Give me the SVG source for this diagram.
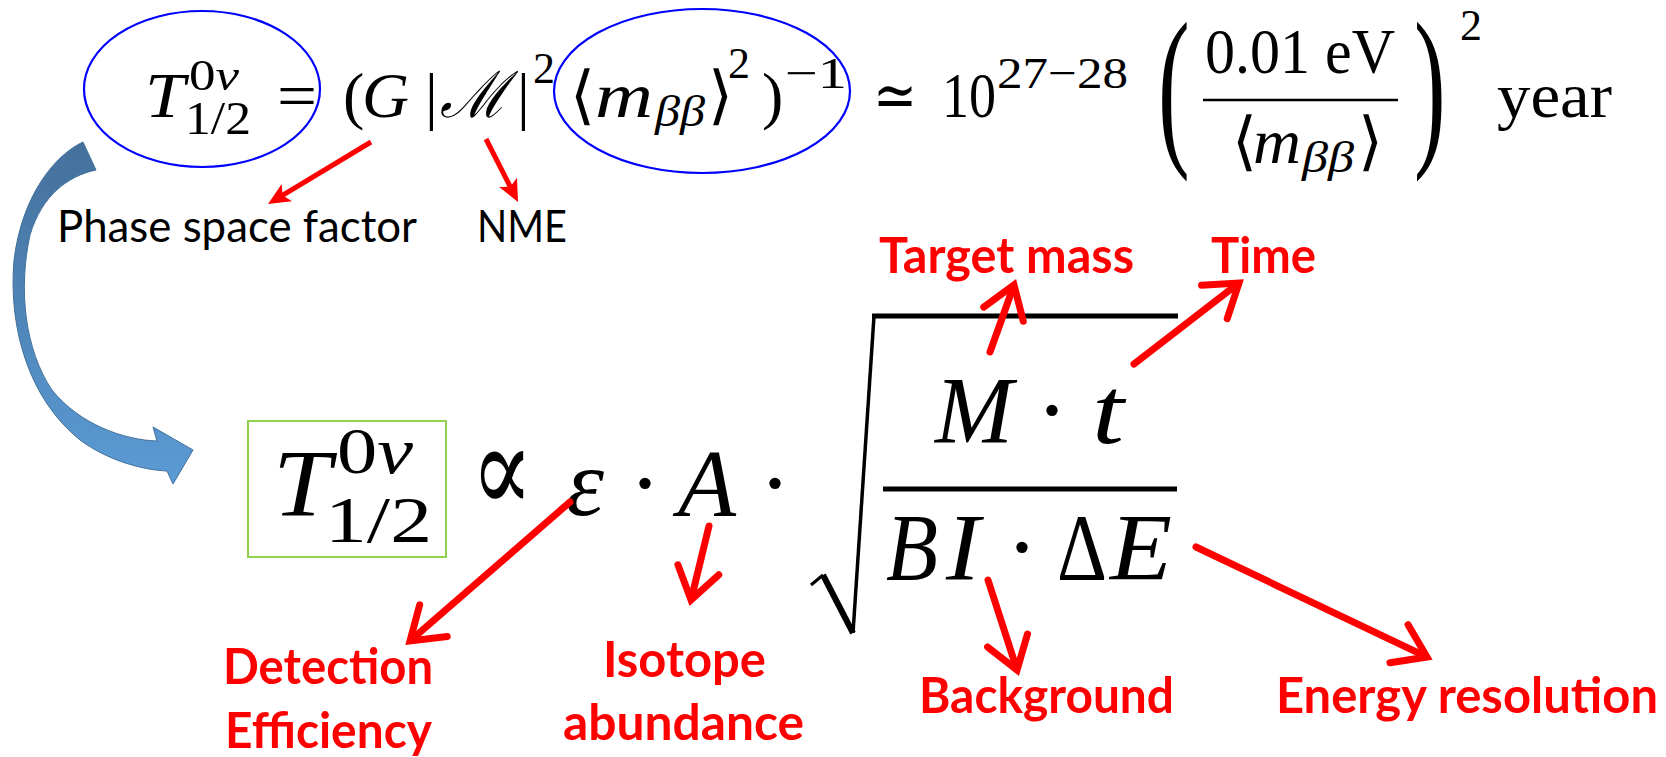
<svg xmlns="http://www.w3.org/2000/svg" width="1666" height="757" viewBox="0 0 1666 757">
<style>
.cm{font-family:'Liberation Serif','DejaVu Serif',serif;fill:#000}
.it{font-style:italic}
.lab{font-family:Lato,'Liberation Sans',sans-serif;fill:#000}
.red{font-family:Lato,'Liberation Sans',sans-serif;font-weight:bold;fill:#ff0000}
.ell{fill:none;stroke:#0000ff;stroke-width:2.2}
.arrS{fill:none;stroke:#ff0000;stroke-width:5}
.arrL{fill:none;stroke:#ff0000;stroke-width:7;stroke-linecap:round}
</style>
<defs>
<marker id="fillHead" markerUnits="userSpaceOnUse" viewBox="-24 -12 26 24" refX="-12" refY="0" markerWidth="26" markerHeight="24" orient="auto">
<path d="M0,0 L-22,-10 L-17,0 L-22,10 Z" fill="#ff0000"/>
</marker>
<marker id="openHead" markerUnits="userSpaceOnUse" viewBox="-40 -30 50 60" refX="-5" refY="0" markerWidth="50" markerHeight="60" orient="auto">
<path d="M-31,-21 L0,0 L-31,21" fill="none" stroke="#ff0000" stroke-width="7" stroke-linecap="round" stroke-linejoin="miter"/>
</marker>
<linearGradient id="blueGrad" x1="0" y1="0" x2="0" y2="1">
<stop offset="0" stop-color="#44709b"/>
<stop offset="1" stop-color="#5b9bd5"/>
</linearGradient>
</defs>

<g id="formula-top" class="cm">
<text x="145" y="117" font-size="64" class="it" textLength="40" lengthAdjust="spacingAndGlyphs">T</text>
<text x="189" y="90" font-size="44" textLength="50" lengthAdjust="spacingAndGlyphs">0<tspan class="it">ν</tspan></text>
<text x="185" y="134" font-size="46" textLength="66" lengthAdjust="spacingAndGlyphs">1/2</text>
<text x="277" y="117" font-size="64" textLength="40" lengthAdjust="spacingAndGlyphs">=</text>
<text x="343" y="117" font-size="64">(</text>
<text x="362" y="117" font-size="64" class="it" textLength="47" lengthAdjust="spacingAndGlyphs">G</text>
<text x="425" y="117" font-size="64">|</text>
<text x="440" y="117" font-size="64" class="it" textLength="68" lengthAdjust="spacingAndGlyphs">ℳ</text>
<text x="517" y="117" font-size="64">|</text>
<text x="533" y="83" font-size="44">2</text>
<text x="570" y="117" font-size="64">⟨</text>
<text x="595" y="117" font-size="64" class="it" textLength="58" lengthAdjust="spacingAndGlyphs">m</text>
<text x="655" y="126" font-size="44" class="it" textLength="50" lengthAdjust="spacingAndGlyphs">ββ</text>
<text x="708" y="117" font-size="64">⟩</text>
<text x="728" y="78" font-size="44">2</text>
<text x="762" y="117" font-size="64">)</text>
<text x="785" y="88" font-size="44" textLength="62" lengthAdjust="spacingAndGlyphs">−1</text>
<text x="873" y="117" font-size="64" textLength="44" lengthAdjust="spacingAndGlyphs">≃</text>
<text x="942" y="117" font-size="64" textLength="54" lengthAdjust="spacingAndGlyphs">10</text>
<text x="997" y="88" font-size="44" textLength="131" lengthAdjust="spacingAndGlyphs">27−28</text>
<text transform="translate(1158,144) scale(1,1.85)" font-size="95">(</text>
<text x="1205" y="73" font-size="64" textLength="190" lengthAdjust="spacingAndGlyphs">0.01 eV</text>
<line x1="1203" y1="100" x2="1398" y2="100" stroke="#000" stroke-width="2.5"/>
<text x="1232" y="163" font-size="64">⟨</text>
<text x="1253" y="163" font-size="64" class="it" textLength="48" lengthAdjust="spacingAndGlyphs">m</text>
<text x="1302" y="172" font-size="44" class="it" textLength="52" lengthAdjust="spacingAndGlyphs">ββ</text>
<text x="1358" y="163" font-size="64">⟩</text>
<text transform="translate(1414,144) scale(1,1.85)" font-size="95">)</text>
<text x="1460" y="40" font-size="44">2</text>
<text x="1497" y="117" font-size="64" textLength="115" lengthAdjust="spacingAndGlyphs">year</text>
</g>

<g id="ellipse-halflife"><ellipse class="ell" cx="202" cy="89" rx="118" ry="78"/></g>
<g id="ellipse-mass"><ellipse class="ell" cx="702" cy="91" rx="148" ry="82"/></g>

<g id="label-phase"><text class="lab" x="57" y="242" font-size="45" textLength="360" lengthAdjust="spacingAndGlyphs">Phase space factor</text></g>
<g id="label-nme"><text class="lab" x="477" y="242" font-size="45" textLength="90" lengthAdjust="spacingAndGlyphs">NME</text></g>

<g id="box-halflife"><rect x="248" y="421" width="198" height="136" fill="none" stroke="#92d050" stroke-width="2"/></g>

<g id="formula-bottom" class="cm">
<text x="273" y="516" font-size="96" class="it" textLength="58" lengthAdjust="spacingAndGlyphs">T</text>
<text x="337" y="473" font-size="66" textLength="76" lengthAdjust="spacingAndGlyphs">0<tspan class="it">ν</tspan></text>
<text x="325" y="542" font-size="66" textLength="107" lengthAdjust="spacingAndGlyphs">1/2</text>
<text x="471" y="512" font-size="124" textLength="62" lengthAdjust="spacingAndGlyphs">∝</text>
<text x="566" y="515" font-size="96" class="it" textLength="38" lengthAdjust="spacingAndGlyphs">ε</text>
<text x="645" y="515" font-size="96" text-anchor="middle">·</text>
<text x="678" y="516" font-size="96" class="it" textLength="58" lengthAdjust="spacingAndGlyphs">A</text>
<text x="775" y="515" font-size="96" text-anchor="middle">·</text>
<path d="M811,585 L823,575" stroke="#000" stroke-width="3" fill="none"/>
<path d="M823,575 L853,633" stroke="#000" stroke-width="6" fill="none"/>
<path d="M853,633 L874,316" stroke="#000" stroke-width="3.5" fill="none"/>
<line x1="872" y1="316" x2="1178" y2="316" stroke="#000" stroke-width="5"/>
<text x="935" y="443" font-size="96" class="it" textLength="78" lengthAdjust="spacingAndGlyphs">M</text>
<text x="1052" y="442" font-size="96" text-anchor="middle">·</text>
<text x="1092" y="443" font-size="96" class="it" textLength="32" lengthAdjust="spacingAndGlyphs">t</text>
<line x1="883" y1="489" x2="1177" y2="489" stroke="#000" stroke-width="5"/>
<text x="886" y="580" font-size="96" class="it" textLength="52" lengthAdjust="spacingAndGlyphs">B</text>
<text x="946" y="580" font-size="96" class="it" textLength="34" lengthAdjust="spacingAndGlyphs">I</text>
<text x="1022" y="579" font-size="96" text-anchor="middle">·</text>
<text x="1057" y="580" font-size="96" textLength="50" lengthAdjust="spacingAndGlyphs">Δ</text>
<text x="1110" y="580" font-size="96" class="it" textLength="62" lengthAdjust="spacingAndGlyphs">E</text>
</g>

<g id="label-target"><text class="red" x="879" y="273" font-size="50" textLength="255" lengthAdjust="spacingAndGlyphs">Target mass</text></g>
<g id="label-time"><text class="red" x="1211" y="273" font-size="50" textLength="105" lengthAdjust="spacingAndGlyphs">Time</text></g>
<g id="label-background"><text class="red" x="919" y="713" font-size="50" textLength="255" lengthAdjust="spacingAndGlyphs">Background</text></g>
<g id="label-energy"><text class="red" x="1276" y="713" font-size="50" textLength="382" lengthAdjust="spacingAndGlyphs">Energy resolution</text></g>
<g id="label-detection"><text class="red" font-size="50"><tspan x="223" y="684" textLength="210" lengthAdjust="spacingAndGlyphs">Detection</tspan><tspan x="225" y="748" textLength="207" lengthAdjust="spacingAndGlyphs">Efficiency</tspan></text></g>
<g id="label-isotope"><text class="red" font-size="50"><tspan x="603" y="677" textLength="163" lengthAdjust="spacingAndGlyphs">Isotope</tspan><tspan x="563" y="740" textLength="241" lengthAdjust="spacingAndGlyphs">abundance</tspan></text></g>

<g id="connectors">
<path d="M83,142 C55,155 22,195 14,260 C8,330 30,400 80,440 C110,462 145,470 167,471 L173,484 L193,450 L153,427 L157,441 C125,440 80,425 52,390 C25,350 18,290 30,235 C42,195 68,176 96,170 Z" fill="url(#blueGrad)" stroke="#41719c" stroke-width="1"/>
<line class="arrS" x1="371" y1="142" x2="278.3" y2="197.8" marker-end="url(#fillHead)"/>
<line class="arrS" x1="486" y1="139" x2="512.6" y2="191.3" marker-end="url(#fillHead)"/>
<line class="arrL" x1="570" y1="502" x2="413.8" y2="637.7" marker-end="url(#openHead)"/>
<line class="arrL" x1="709" y1="526" x2="692.2" y2="595.1" marker-end="url(#openHead)"/>
<line class="arrL" x1="990" y1="352" x2="1012.3" y2="289.7" marker-end="url(#openHead)"/>
<line class="arrL" x1="1134" y1="364" x2="1235" y2="286.1" marker-end="url(#openHead)"/>
<line class="arrL" x1="988" y1="580" x2="1015.5" y2="665.2" marker-end="url(#openHead)"/>
<line class="arrL" x1="1196" y1="547" x2="1422.5" y2="654.9" marker-end="url(#openHead)"/>
</g>
</svg>
